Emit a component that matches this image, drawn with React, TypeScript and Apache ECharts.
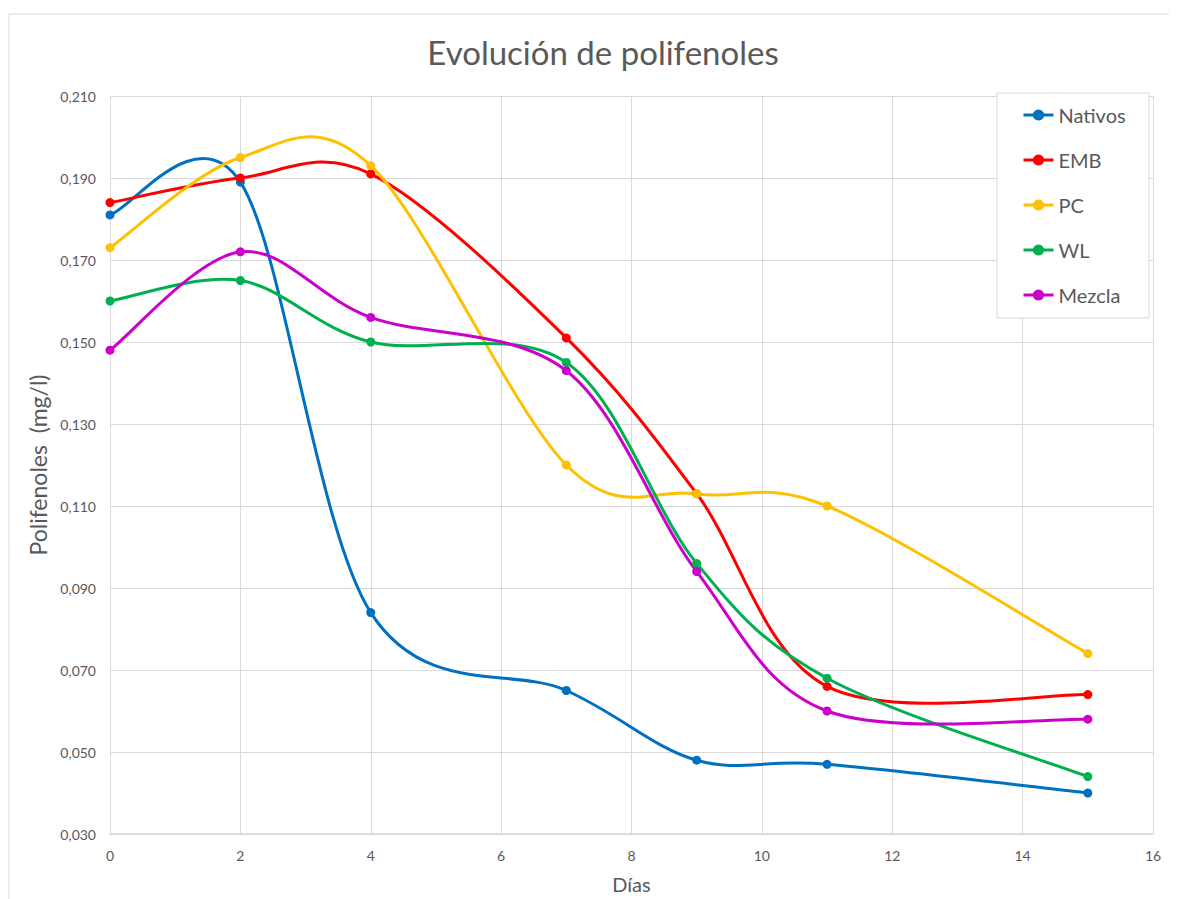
import React, { useEffect, useRef } from "react";
import * as echarts from "echarts";

const days = [0, 2, 4, 7, 9, 11, 15];
const seriesNames = ["Nativos", "EMB", "PC", "WL", "Mezcla"];
const nativos = [0.181, 0.189, 0.084, 0.065, 0.048, 0.047, 0.040];
const emb = [0.184, 0.190, 0.191, 0.151, 0.113, 0.066, 0.064];
const pc = [0.173, 0.195, 0.193, 0.120, 0.113, 0.110, 0.074];
const wl = [0.160, 0.165, 0.150, 0.145, 0.096, 0.068, 0.044];
const mezcla = [0.148, 0.172, 0.156, 0.143, 0.094, 0.060, 0.058];
const colors = ["#0070C0", "#FF0000", "#FFC000", "#00B050", "#CC00CC"];

const FONT = "Lato, 'Open Sans', sans-serif";
const GREY = "#595959";

function smoothPath(pts: number[][]): string {
  const n = pts.length;
  let d = `M${pts[0][0]},${pts[0][1]}`;
  for (let i = 0; i < n - 1; i++) {
    const p0 = pts[Math.max(i - 1, 0)];
    const p1 = pts[i];
    const p2 = pts[i + 1];
    const p3 = pts[Math.min(i + 2, n - 1)];
    const c1x = p1[0] + (p2[0] - p0[0]) / 6;
    const c1y = p1[1] + (p2[1] - p0[1]) / 6;
    const c2x = p2[0] - (p3[0] - p1[0]) / 6;
    const c2y = p2[1] - (p3[1] - p1[1]) / 6;
    d += ` C${c1x},${c1y} ${c2x},${c2y} ${p2[0]},${p2[1]}`;
  }
  return d;
}

export default function App() {
  const ref = useRef<HTMLDivElement>(null);
  useEffect(() => {
    if (!ref.current) return;
    const chart = echarts.init(ref.current, null, { renderer: "svg" });
    const all = [nativos, emb, pc, wl, mezcla];
    const curveSeries = seriesNames.map((name, i) => ({
      name: name + " curve",
      type: "custom",
      silent: true,
      z: 2,
      data: [[days[0], all[i][0]]],
      renderItem: (params: any, api: any) => {
        const pts = days.map((d, j) => api.coord([d, all[i][j]]));
        return {
          type: "path",
          shape: { pathData: smoothPath(pts) },
          style: { stroke: colors[i], lineWidth: 3, fill: "none" },
        };
      },
    }));
    const markerSeries = seriesNames.map((name, i) => ({
      name,
      type: "line",
      z: 3,
      symbol: "circle",
      symbolSize: 9,
      data: days.map((d, j) => [d, all[i][j]]),
      itemStyle: { color: colors[i] },
      lineStyle: { color: colors[i], width: 3, opacity: 0 },
    }));
    const series: any[] = [];
    for (let i = 0; i < seriesNames.length; i++) {
      series.push(curveSeries[i]);
      series.push(markerSeries[i]);
    }
    chart.setOption({
      animation: false,
      backgroundColor: "#ffffff",
      title: {
        text: "Evolución de polifenoles",
        left: 590,
        textAlign: "center",
        top: 22,
        textStyle: { fontFamily: FONT, fontSize: 33, fontWeight: "normal", color: GREY },
      },
      graphic: [
        {
          type: "rect",
          shape: { x: 1, y: 6, width: 1300, height: 1000 },
          style: { fill: "none", stroke: "#d9d9d9", lineWidth: 1 },
          silent: true,
        },
        {
          type: "rect",
          shape: { x: 989, y: 85, width: 152, height: 225 },
          style: { fill: "#ffffff", stroke: "#d9d9d9", lineWidth: 1 },
          z: 5,
          silent: true,
        },
      ],
      legend: {
        orient: "vertical",
        left: 1014,
        top: 97,
        itemWidth: 30,
        itemHeight: 14,
        itemGap: 25,
        padding: 0,
        z: 10,
        data: seriesNames,
        lineStyle: { width: 3, opacity: 1 },
        textStyle: { fontFamily: FONT, fontSize: 20, color: GREY, lineHeight: 20 },
      },
      grid: { left: 102, top: 88, width: 1043, height: 742, containLabel: false },
      xAxis: {
        type: "value",
        min: 0,
        max: 16,
        interval: 2,
        name: "Días",
        nameLocation: "middle",
        nameGap: 40,
        nameTextStyle: { fontFamily: FONT, fontSize: 20, color: GREY },
        axisLine: { lineStyle: { color: "#d9d9d9", width: 1.5 } },
        axisTick: { show: false },
        splitLine: { show: true, lineStyle: { color: "#d9d9d9", width: 1 } },
        axisLabel: { fontFamily: FONT, fontSize: 14, color: GREY, margin: 14 },
      },
      yAxis: {
        type: "value",
        min: 0.03,
        max: 0.21,
        interval: 0.02,
        name: "Polifenoles  (mg/l)",
        nameLocation: "middle",
        nameGap: 60,
        nameTextStyle: { fontFamily: FONT, fontSize: 23, color: GREY },
        axisLine: { show: true, lineStyle: { color: "#d9d9d9", width: 1 } },
        axisTick: { show: false },
        splitLine: { show: true, lineStyle: { color: "#d9d9d9", width: 1 } },
        axisLabel: {
          fontFamily: FONT,
          fontSize: 14,
          color: GREY,
          margin: 14,
          formatter: (v: number) => v.toFixed(3).replace(".", ","),
        },
      },
      series,
    });
    return () => chart.dispose();
  }, []);
  return <div ref={ref} style={{ width: 1169, height: 891 }} />;
}
